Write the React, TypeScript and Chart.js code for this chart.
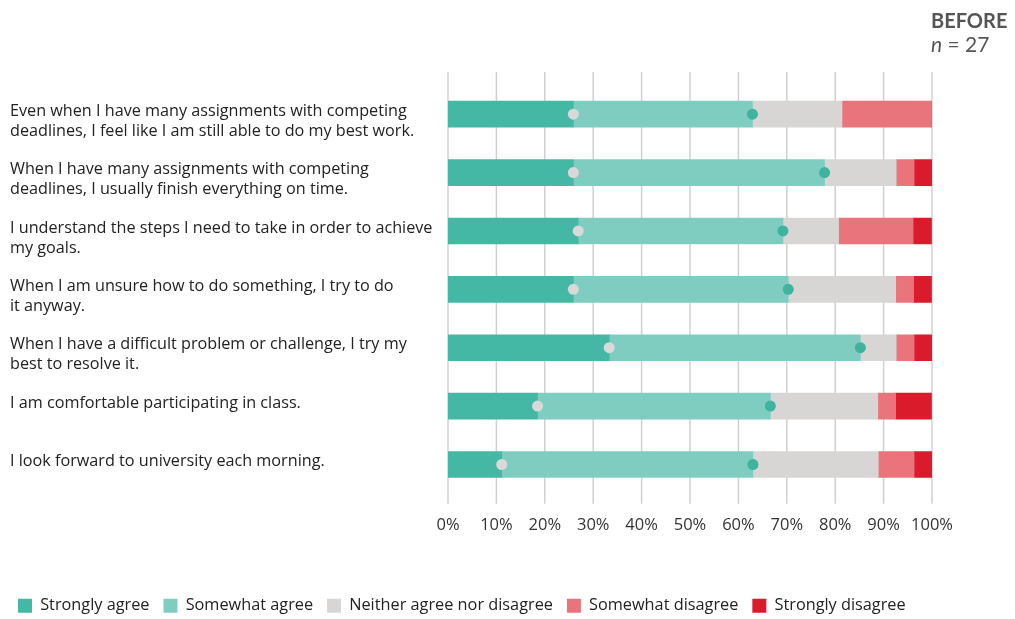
import React, { useEffect, useRef } from "react";
import { Chart, registerables } from "chart.js";

Chart.register(...registerables);

const categories: string[][] = [
  ["Even when I have many assignments with competing", "deadlines, I feel like I am still able to do my best work."],
  ["When I have many assignments with competing", "deadlines, I usually finish everything on time."],
  ["I understand the steps I need to take in order to achieve", "my goals."],
  ["When I am unsure how to do something, I try to do", "it anyway."],
  ["When I have a difficult problem or challenge, I try my", "best to resolve it."],
  ["I am comfortable participating in class.", ""],
  ["I look forward to university each morning.", ""],
];

const seriesNames = [
  "Strongly agree",
  "Somewhat agree",
  "Neither agree nor disagree",
  "Somewhat disagree",
  "Strongly disagree",
];

const stronglyAgree = [25.9, 25.9, 26.9, 25.9, 33.3, 18.5, 11.1];
const somewhatAgree = [37.0, 51.9, 42.3, 44.4, 51.9, 48.1, 51.9];
const neither = [18.5, 14.8, 11.5, 22.2, 7.4, 22.2, 25.9];
const somewhatDisagree = [18.5, 3.7, 15.4, 3.7, 3.7, 3.7, 7.4];
const stronglyDisagree = [0, 3.7, 3.8, 3.7, 3.7, 7.4, 3.7];

const xTicks = [0, 10, 20, 30, 40, 50, 60, 70, 80, 90, 100];

const colors = ["#45b7a5", "#7fcdc1", "#d7d6d4", "#e9747c", "#d91b2b"];
const dotColors = ["#d9d9d9", "#3db3a0"];

const FONT = "'Open Sans', Lato, sans-serif";
const TITLE_FONT = "Lato, 'Open Sans', sans-serif";

const gridPlugin = {
  id: "customGrid",
  beforeDatasetsDraw(chart: any) {
    const { ctx, chartArea, scales } = chart;
    const xs = scales.x;
    ctx.save();
    ctx.strokeStyle = "#d0d0d0";
    ctx.lineWidth = 1.5;
    xTicks.forEach((v) => {
      const x = xs.getPixelForValue(v);
      ctx.beginPath();
      ctx.moveTo(x, chartArea.top - 13);
      ctx.lineTo(x, chartArea.bottom + 10);
      ctx.stroke();
    });
    ctx.restore();
  },
};

const dotPlugin = {
  id: "boundaryDots",
  afterDatasetsDraw(chart: any) {
    const { ctx } = chart;
    ctx.save();
    [0, 1].forEach((di) => {
      const meta = chart.getDatasetMeta(di);
      meta.data.forEach((bar: any) => {
        ctx.beginPath();
        ctx.arc(bar.x, bar.y, 5.5, 0, Math.PI * 2);
        ctx.fillStyle = dotColors[di];
        ctx.fill();
      });
    });
    ctx.restore();
  },
};

const legendShiftPlugin = {
  id: "legendShift",
  afterLayout(chart: any) {
    if (chart.legend) {
      chart.legend.left = 4;
    }
  },
};

export default function App() {
  const canvasRef = useRef<HTMLCanvasElement | null>(null);

  useEffect(() => {
    if (!canvasRef.current) return;
    const values = [stronglyAgree, somewhatAgree, neither, somewhatDisagree, stronglyDisagree];
    const chart = new Chart(canvasRef.current, {
      type: "bar",
      data: {
        labels: categories as any,
        datasets: values.map((d, i) => ({
          label: seriesNames[i],
          data: d,
          backgroundColor: colors[i],
          borderWidth: 0,
          barThickness: 26,
        })),
      },
      options: {
        indexAxis: "y",
        animation: false,
        responsive: true,
        maintainAspectRatio: false,
        layout: { padding: { left: 10, right: 0, top: 85, bottom: -5 } },
        scales: {
          x: {
            stacked: true,
            min: 0,
            max: 100,
            grid: { display: false, drawTicks: false },
            border: { display: false },
            afterBuildTicks: (scale: any) => {
              scale.ticks = xTicks.map((v) => ({ value: v }));
            },
            afterFit: (scale: any) => {
              scale.height = 90;
            },
            ticks: {
              padding: 22,
              color: "#333",
              font: { family: FONT, size: 16.5 },
              callback: (v: any) => v + "%",
              maxRotation: 0,
              autoSkip: false,
            },
          },
          y: {
            stacked: true,
            grid: { display: false, drawTicks: false },
            border: { display: false },
            afterFit: (scale: any) => {
              scale.width = 438;
            },
            ticks: {
              crossAlign: "far",
              autoSkip: false,
              padding: 0,
              labelOffset: 7,
              color: "#222",
              font: { family: FONT, size: 16.2, lineHeight: 1.24 },
            },
          },
          yRight: {
            type: "category",
            position: "right",
            grid: { display: false, drawTicks: false },
            border: { display: false },
            ticks: { display: false },
            afterFit: (scale: any) => {
              scale.width = 83;
            },
          },
        },
        plugins: {
          tooltip: { enabled: false },
          legend: {
            position: "bottom",
            align: "start",
            labels: {
              boxWidth: 14,
              boxHeight: 14,
              padding: 14,
              color: "#222",
              font: { family: FONT, size: 16.3 },
            },
          },
        },
      },
      plugins: [gridPlugin, dotPlugin, legendShiftPlugin],
    } as any);
    return () => chart.destroy();
  }, []);

  return (
    <div style={{ position: "fixed", left: 0, top: 0, width: 1015, height: 619, background: "#fff" }}>
      <canvas ref={canvasRef} />
      <div
        style={{
          position: "absolute",
          left: 931,
          top: 8,
          fontFamily: TITLE_FONT,
          color: "#555",
          lineHeight: "24px",
        }}
      >
        <div style={{ fontWeight: 700, fontSize: 20 }}>BEFORE</div>
        <div style={{ fontSize: 21 }}>
          <i>n</i> = 27
        </div>
      </div>
    </div>
  );
}
